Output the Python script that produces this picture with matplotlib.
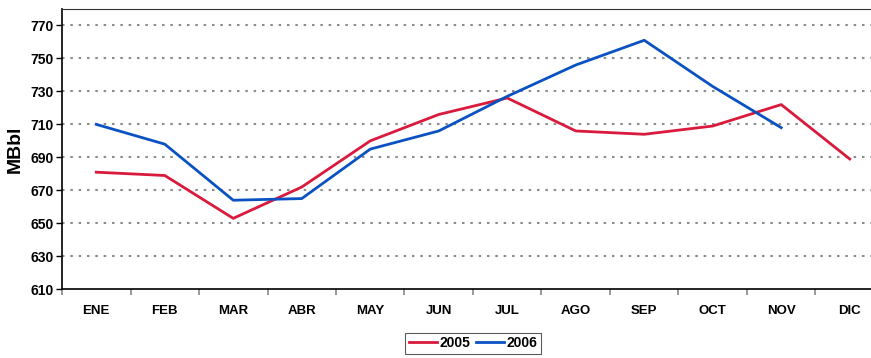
import numpy as np
import matplotlib.pyplot as plt

plt.rcParams['font.family'] = ['Liberation Sans Narrow', 'Liberation Sans', 'DejaVu Sans']
plt.rcParams['font.weight'] = 'bold'

meses = ['ENE', 'FEB', 'MAR', 'ABR', 'MAY', 'JUN', 'JUL', 'AGO', 'SEP', 'OCT', 'NOV', 'DIC']
v2005 = [681, 679, 653, 672, 700, 716, 726, 706, 704, 709, 722, 689]
v2006 = [710, 698, 664, 665, 695, 706, 727, 746, 761, 733, 708]

fig = plt.figure(figsize=(8.71, 3.58), dpi=100)
ax = fig.add_axes([0.0712, 0.192, 0.9437, 0.783])

x = np.arange(len(meses))
ax.plot(x, v2005, color='#d91a3c', lw=2.0, label='2005')
ax.plot(x[:len(v2006)], v2006, color='#0a52c2', lw=2.0, label='2006')

ax.set_xlim(-0.5, 11.5)
ax.set_ylim(610, 780)
ax.set_yticks(np.arange(610, 771, 20))
ax.set_xticks(x)
ax.set_xticklabels(meses, fontsize=9.5, fontweight='bold')
ax.set_xticks(np.arange(-0.5, 11.6, 1), minor=True)
ax.tick_params(axis='x', which='major', length=0, pad=11)
ax.tick_params(axis='x', which='minor', length=4, color='#888888', width=1.2)
ax.tick_params(axis='y', length=4, width=1, labelsize=10, pad=2)
for lbl in ax.get_yticklabels():
    lbl.set_fontweight('bold')

# dotted grid lines, skipping the axis baseline
for v in np.arange(630, 771, 20):
    ax.axhline(v, color='#8c8c8c', lw=1.5, ls=(0, (1.2, 2.8)), zorder=0)

ax.spines['right'].set_visible(False)
ax.spines['top'].set_color('#333333')
ax.spines['left'].set_linewidth(1.2)
ax.spines['bottom'].set_linewidth(1.2)

ax.set_ylabel('MBbl', fontsize=14, fontweight='bold', family=['Liberation Sans', 'DejaVu Sans'])
ax.yaxis.set_label_coords(-0.047, 0.5)

leg = ax.legend(loc='upper center', bbox_to_anchor=(0.5, -0.155), ncol=2, frameon=True,
                fancybox=False, edgecolor='#333333', fontsize=10, handlelength=2.0,
                handletextpad=0.2, columnspacing=0.4, borderpad=0.25, borderaxespad=0)
leg.get_frame().set_linewidth(0.8)

fig.savefig('out.png', dpi=100)
